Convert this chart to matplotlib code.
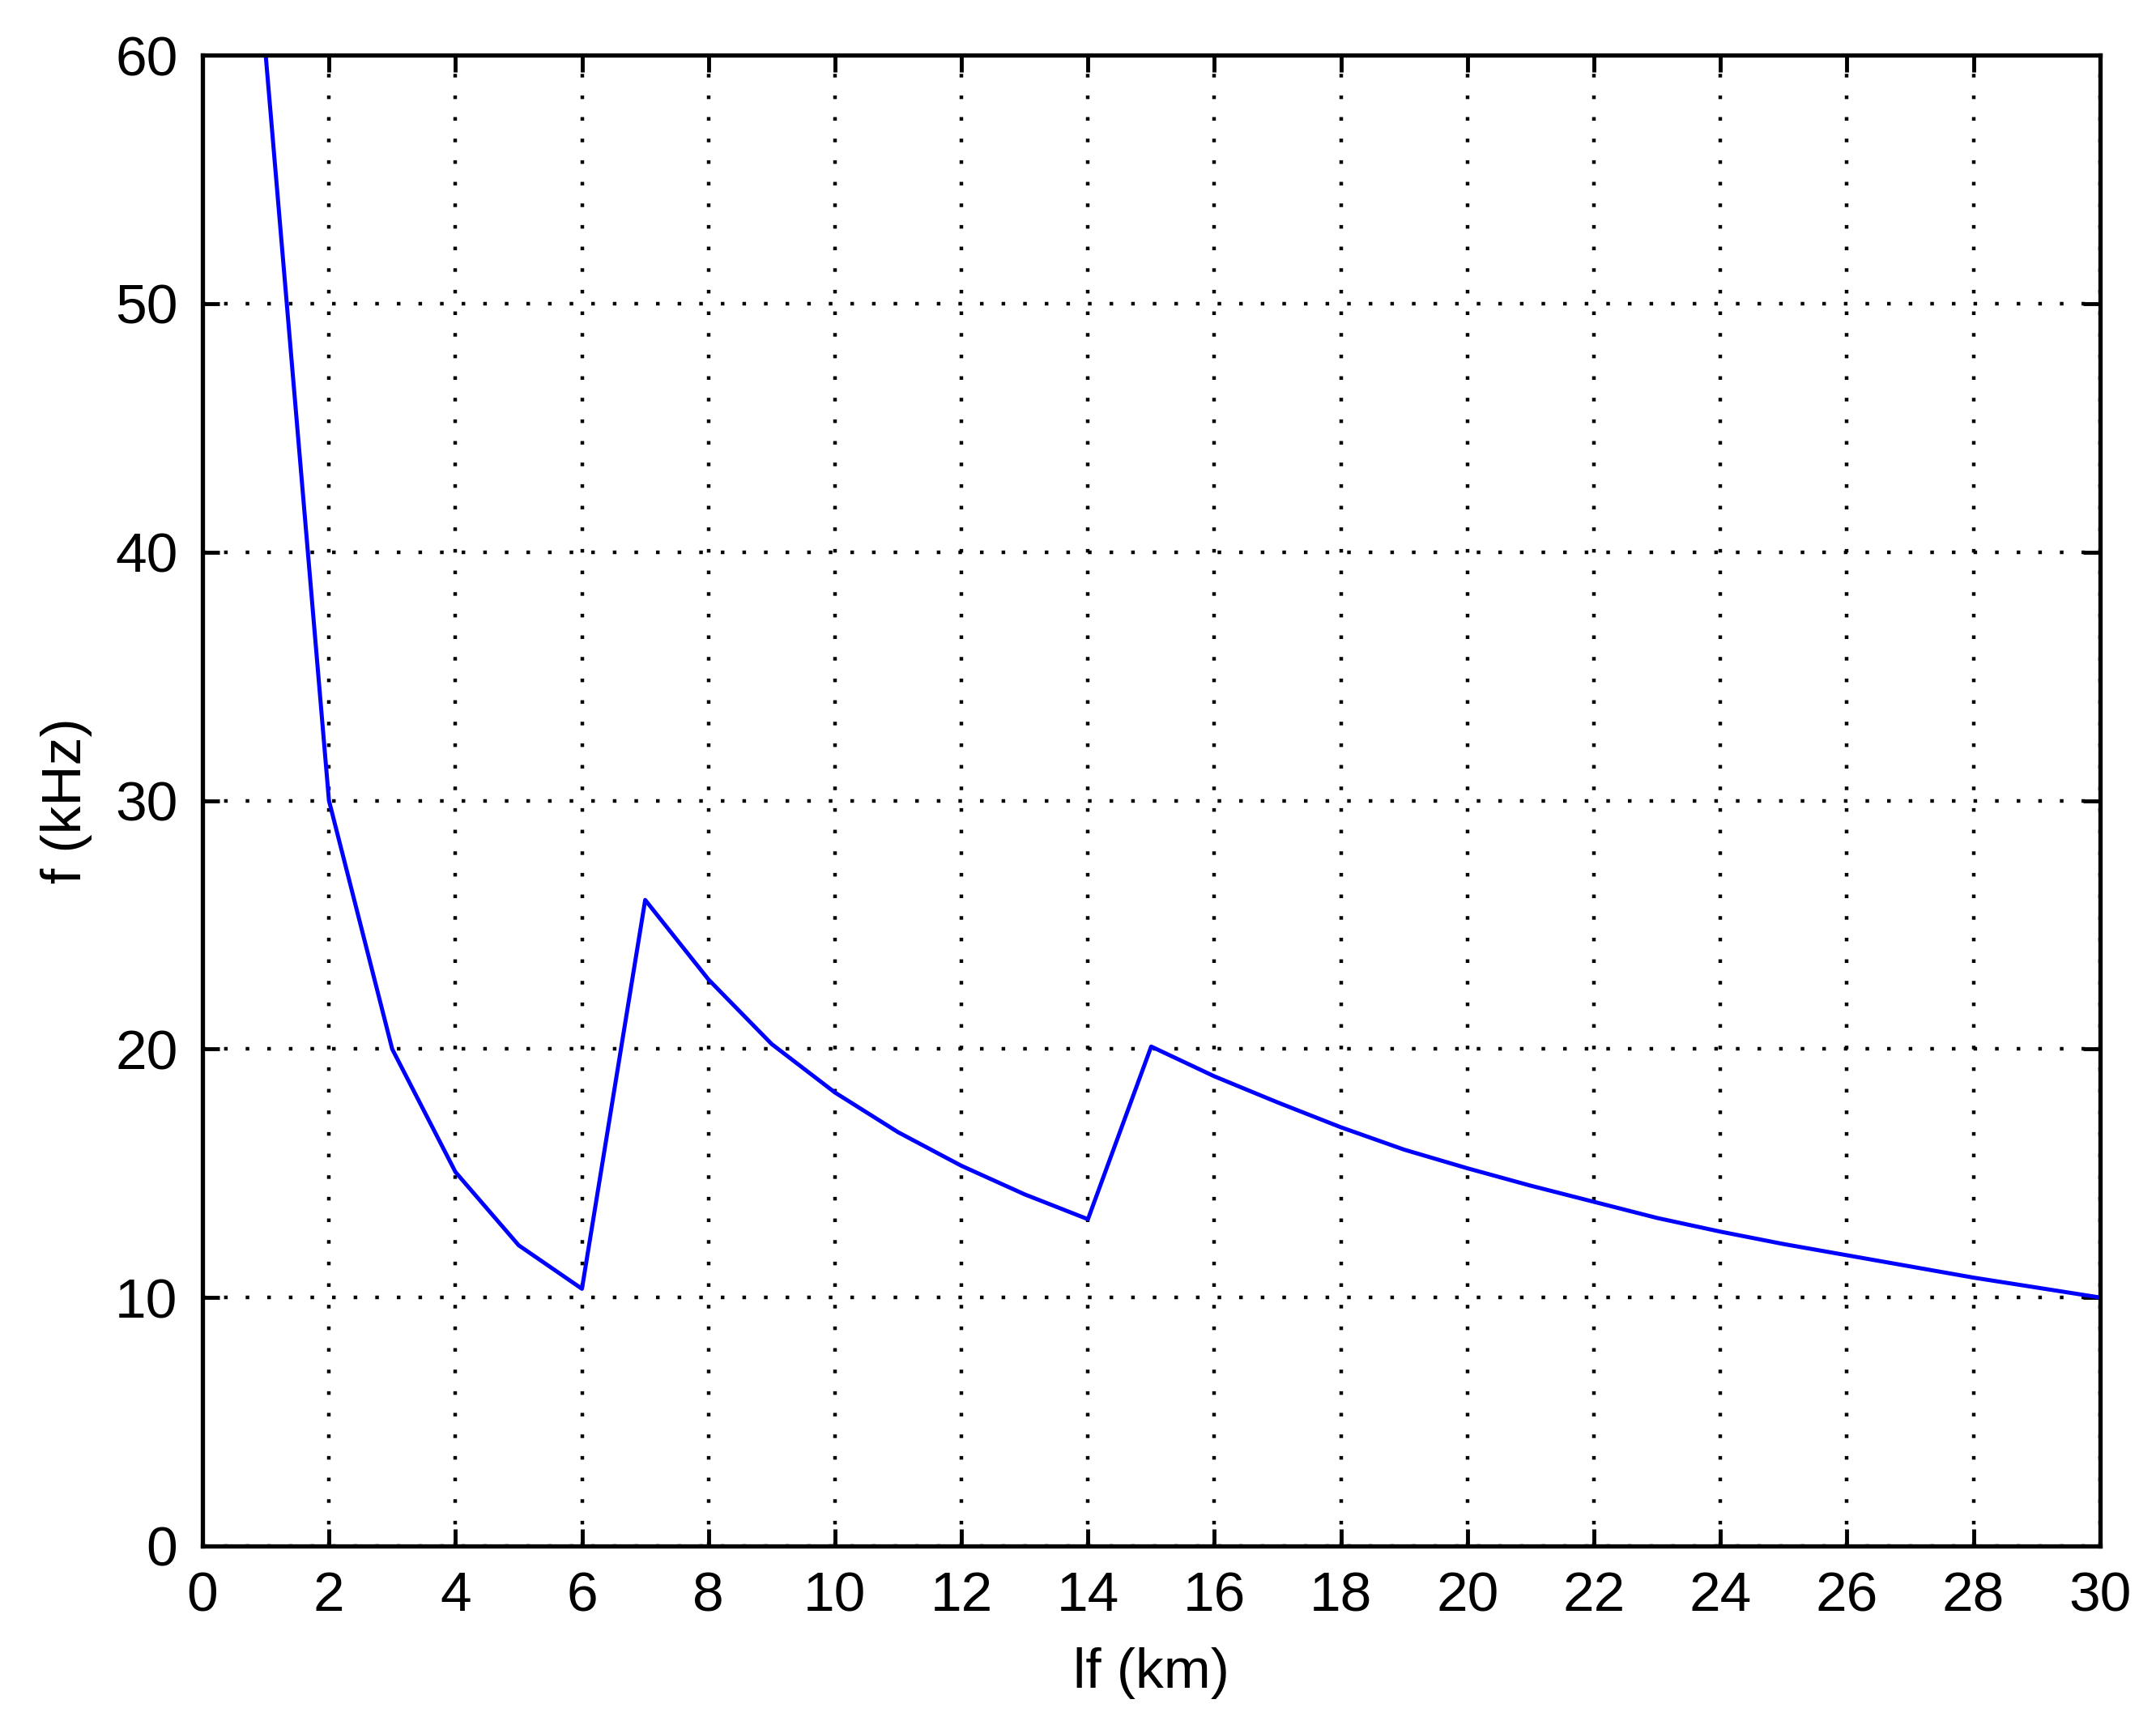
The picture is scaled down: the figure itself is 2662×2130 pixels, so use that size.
import matplotlib
matplotlib.use("Agg")
import matplotlib.pyplot as plt
from matplotlib import font_manager

# values (lf in km, f in kHz)
lf_km = [1, 2, 3, 4, 5, 6, 7, 8, 9, 10, 11, 12, 13, 14, 15, 16, 17, 18, 19, 20,
         21, 22, 23, 24, 25, 26, 27, 28, 29, 30]
f_khz = [60.0, 30.0, 20.0, 15.05, 12.1, 10.35, 26.0, 22.8, 20.2, 18.25, 16.65, 15.3,
         14.15, 13.15, 20.1, 18.9, 17.85, 16.85, 15.95, 15.2, 14.5, 13.85, 13.2, 12.65,
         12.15, 11.7, 11.25, 10.8, 10.4, 10.0]

x_ticks = list(range(0, 31, 2))
y_ticks = list(range(0, 61, 10))

names = {f.name for f in font_manager.fontManager.ttflist}
fam = "Liberation Sans Narrow" if "Liberation Sans Narrow" in names else "Liberation Sans"
plt.rcParams['font.family'] = [fam, 'DejaVu Sans']

fig = plt.figure(figsize=(26.62, 21.30), dpi=100)
ax = fig.add_axes([0.0939, 0.1038, 0.974 - 0.0939, 0.968 - 0.1038])

ax.plot(lf_km, f_khz, color='#0000ff', linewidth=3.6)

ax.set_xlim(0, 30)
ax.set_ylim(0, 60)
ax.set_xticks(x_ticks)
ax.set_yticks(y_ticks)
ax.grid(True, color='black', linestyle=(0, (1, 5)), linewidth=3.2)
ax.tick_params(direction='in', length=15, width=3.5, labelsize=50, pad=22,
               top=True, right=True)
for s in ax.spines.values():
    s.set_linewidth(3.8)

ax.set_xlabel('lf (km)', fontsize=50, labelpad=22)
ax.set_ylabel('f (kHz)', fontsize=50, labelpad=20)

fig.savefig('out.png', dpi=100)
